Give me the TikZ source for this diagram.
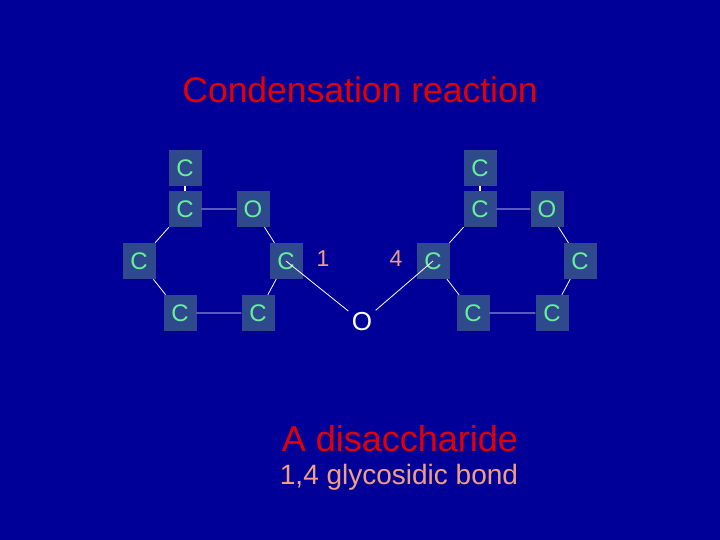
\documentclass[tikz,border=0pt]{standalone}
\usepackage{fontspec}
\setmainfont{Liberation Sans}
\begin{document}
\begin{tikzpicture}[x=1pt,y=-1pt,
  atom/.style={fill=boxc,minimum width=33pt,minimum height=36pt,inner sep=0pt,text=atomc,font=\fontsize{24}{24}\selectfont},
  bond/.style={white,line width=0.8pt},
  vbond/.style={white,line width=2.5pt}]
\definecolor{bg}{HTML}{000099}
\definecolor{boxc}{HTML}{2E4A8C}
\definecolor{atomc}{HTML}{66F09A}
\definecolor{salmon}{HTML}{F0A080}
\fill[bg] (0,0) rectangle (720,540);
\useasboundingbox (0,0) rectangle (720,540);
\node[text=red!90!black,font=\fontsize{35.5}{35.5}\selectfont] (title) at (360,90) {Condensation reaction};
% left ring
\node[atom] (lt) at (185,168) {C};
\node[atom] (l1) at (185,209) {C};
\node[atom] (lo) at (253,209) {O};
\node[atom] (l2) at (139,261) {C};
\node[atom] (l3) at (286,261) {C};
\node[atom] (l4) at (180,313) {C};
\node[atom] (l5) at (258,313) {C};
% right ring
\node[atom] (rt) at (480,168) {C};
\node[atom] (r1) at (480,209) {C};
\node[atom] (ro) at (547,209) {O};
\node[atom] (r2) at (433,261) {C};
\node[atom] (r3) at (580,261) {C};
\node[atom] (r4) at (473,313) {C};
\node[atom] (r5) at (552,313) {C};
\node[text=white,font=\fontsize{26}{26}\selectfont] (o) at (362,322) {O};
\node[text=salmon,font=\fontsize{23}{23}\selectfont] (n1) at (323,259) {1};
\node[text=salmon,font=\fontsize{23}{23}\selectfont] (n4) at (396,259) {4};
\draw[vbond] (lt) -- (l1);
\draw[vbond] (rt) -- (r1);
\draw[bond] (l1) -- (lo) (lo) -- (l3) (l3) -- (l5) (l5) -- (l4) (l4) -- (l2) (l2) -- (l1);
\draw[bond] (r1) -- (ro) (ro) -- (r3) (r3) -- (r5) (r5) -- (r4) (r4) -- (r2) (r2) -- (r1);
\draw[bond] (l3.center) -- (o);
\draw[bond] (r2.center) -- (o);
\node[text=red!90!black,font=\fontsize{36}{36}\selectfont] (dis) at (400,439) {A disaccharide};
\node[text=salmon,font=\fontsize{28}{28}\selectfont] (gly) at (399,477) {1,4 glycosidic bond};
\end{tikzpicture}
\end{document}
